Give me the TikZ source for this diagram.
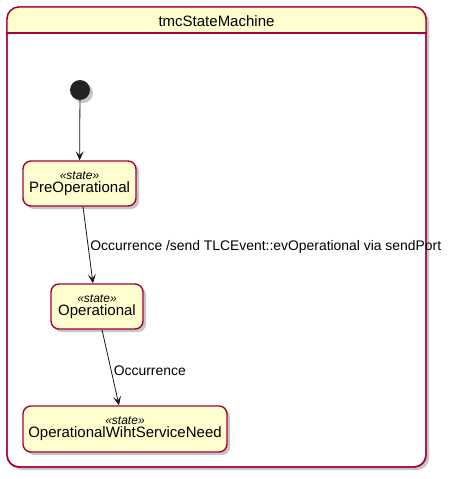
\documentclass[tikz,border=0pt]{standalone}
\usepackage{fontspec}
\setmainfont{Liberation Sans}
\usetikzlibrary{arrows.meta,shadows,positioning}
\definecolor{statefill}{HTML}{FEFECE}
\definecolor{stateborder}{HTML}{A80036}
\definecolor{arrowcol}{HTML}{181818}
\definecolor{initcol}{HTML}{222222}
\tikzset{
  shade/.style={drop shadow={opacity=0.45,shadow xshift=3pt,shadow yshift=-3pt}},
  statebox/.style={draw=stateborder,line width=1.4pt,fill=statefill,rounded corners=8pt,
    shade,align=center,inner sep=0pt,minimum height=45pt},
  transition/.style={draw=arrowcol,line width=0.8pt,-{Stealth[length=9pt,width=8pt,inset=4pt]}},
  tlabel/.style={font=\fontsize{13.9}{15}\selectfont,text=black,inner sep=2pt},
}
\newcommand{\statetext}[1]{{\fontsize{12}{13}\selectfont\itshape «state»}\\[1pt]{\fontsize{15}{17}\selectfont #1}}
\begin{document}
\begin{tikzpicture}[x=1pt,y=-1pt]
\useasboundingbox (0,0) rectangle (448,479);
% container
\node[draw=stateborder,line width=1.4pt,fill=white,rounded corners=12pt,shade,
      minimum width=419pt,minimum height=460pt,inner sep=0pt] (machine) at (216.5,237) {};
\begin{scope}
  \clip[rounded corners=12pt] (7,7) rectangle (426,467);
  \fill[statefill] (7,7) rectangle (426,33);
\end{scope}
\draw[stateborder,line width=1.4pt,rounded corners=12pt] (7,7) rectangle (426,467);
\draw[stateborder,line width=1.4pt] (machine.west |- 0,33) -- (machine.east |- 0,33);
\node[font=\fontsize{15}{17}\selectfont] (title) at (216.5,21) {tmcStateMachine};
% states
\node[circle,fill=initcol,minimum size=20pt,inner sep=0pt,shade] (init) at (80,90) {};
\node[statebox,minimum width=113pt] (pre) at (79.5,183.5) {\statetext{PreOperational}};
\node[statebox,minimum width=92pt] (op) at (97,306.5) {\statetext{Operational}};
\node[statebox,minimum width=204pt,minimum height=46pt] (owsn) at (125,429) {\statetext{OperationalWihtServiceNeed}};
% transitions
\draw[transition] (init) -- (pre);
\draw[transition] ([xshift=3.5pt]pre.south) -- node[tlabel,right,yshift=-1.5pt] {Occurrence /send TLCEvent::evOperational via sendPort} ([xshift=-4pt]op.north);
\draw[transition] ([xshift=5pt]op.south) -- node[tlabel,right,xshift=1pt,yshift=-3pt] {Occurrence} ([xshift=-6pt]owsn.north);
\end{tikzpicture}
\end{document}
